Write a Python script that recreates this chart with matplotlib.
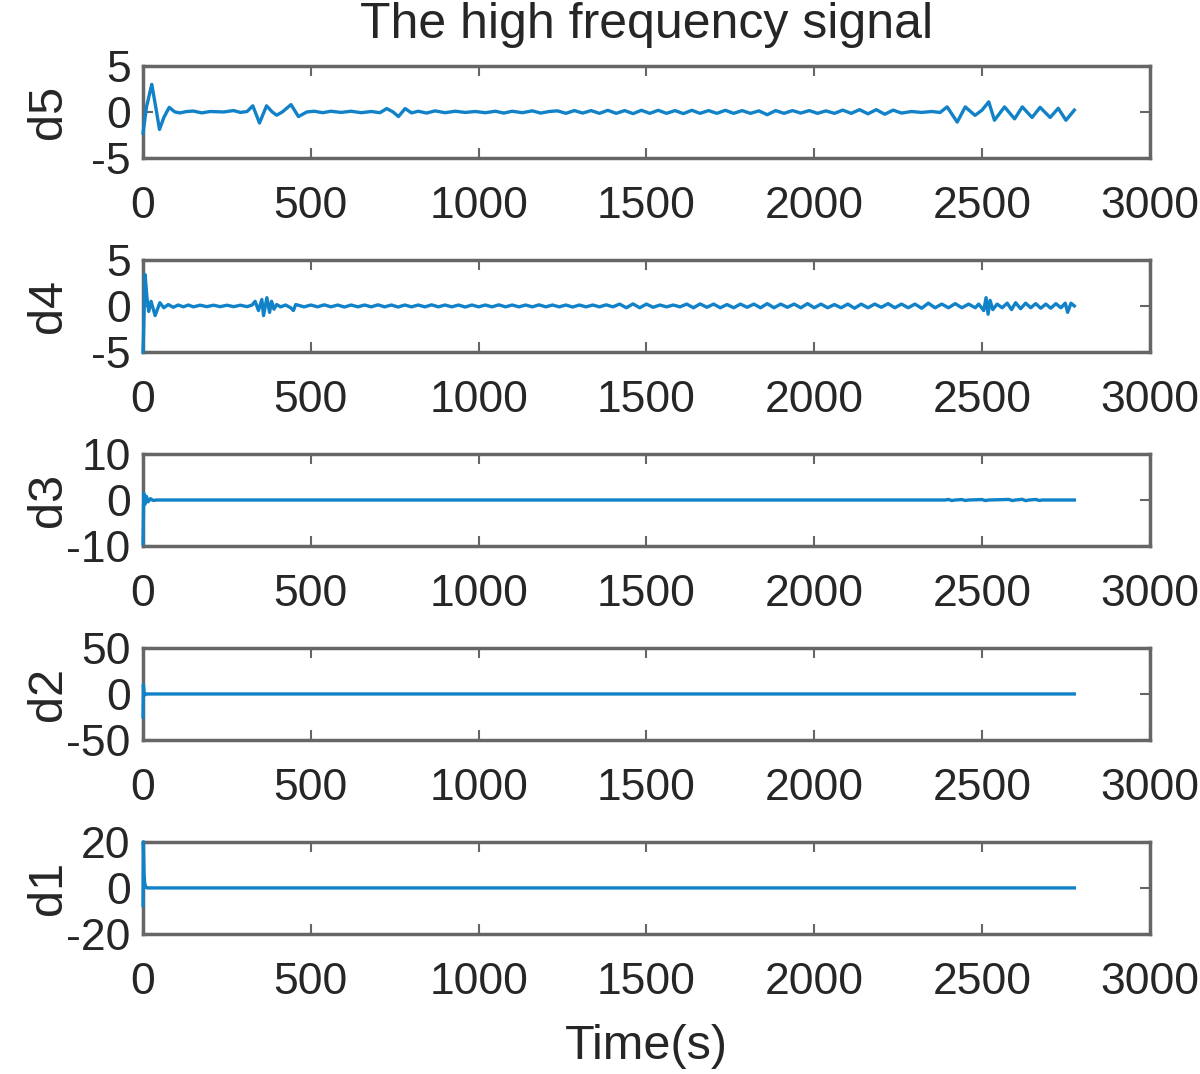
import matplotlib
matplotlib.use("Agg")
import matplotlib.pyplot as plt

# (time, value) pairs, mostly peaks and troughs
d5_pts = [(0, -2.3), (10, 0.5), (26, 3.0), (38, 0.5), (49, -1.9), (62, -0.6), (78, 0.5),
          (95, 0.0), (110, -0.1), (130, 0.05), (150, 0.1), (175, -0.1), (200, 0.05),
          (240, 0.0), (270, 0.15), (290, -0.05), (310, 0.05),
          (327, 0.67), (347, -1.2), (368, 0.67), (385, 0.0), (398, -0.35), (415, 0.0),
          (441, 0.8), (463, -0.5), (488, 0.0),
          (510, 0.08), (535, -0.08), (560, 0.08), (590, -0.05), (620, 0.08), (650, -0.08),
          (680, 0.05), (706, -0.08), (726, 0.37), (745, 0.0), (761, -0.5), (781, 0.37),
          (800, -0.1), (820, 0.08), (845, -0.12), (870, 0.12), (900, -0.08), (930, 0.08),
          (960, -0.05), (990, 0.05), (1020, -0.08), (1050, 0.08), (1075, -0.12), (1100, 0.08),
          (1130, -0.08), (1160, 0.12), (1185, -0.12), (1210, 0.05),
          (1235, 0.12), (1260, -0.15), (1285, 0.15), (1310, -0.12), (1335, 0.15), (1360, -0.15),
          (1385, 0.18), (1410, -0.15), (1435, 0.15), (1460, -0.18), (1485, 0.18), (1510, -0.15),
          (1535, 0.18), (1560, -0.15), (1585, 0.15), (1610, -0.18), (1635, 0.18), (1660, -0.15),
          (1685, 0.15), (1710, -0.15), (1735, 0.18), (1760, -0.15), (1785, 0.15), (1810, -0.15),
          (1835, 0.12), (1860, -0.3), (1885, 0.15), (1910, -0.15), (1935, 0.15), (1960, -0.12),
          (1985, 0.15), (2010, -0.15), (2035, 0.12), (2060, -0.15), (2085, 0.2), (2110, -0.15),
          (2135, 0.25), (2160, -0.2), (2185, 0.25), (2210, -0.25), (2235, 0.2), (2260, -0.12),
          (2290, 0.05), (2320, -0.05), (2350, 0.05), (2375, -0.05),
          (2396, 0.55), (2426, -1.1), (2450, 0.55), (2479, -0.37), (2500, 0.2), (2520, 1.1),
          (2537, -0.9), (2567, 0.55), (2597, -0.75), (2620, 0.55), (2649, -0.6), (2673, 0.5),
          (2703, -0.6), (2727, 0.4), (2750, -0.9), (2775, 0.2)]

d4_pts = [(0, -5.0), (6, 3.4), (12, 0.8), (17, -0.6), (24, 0.5), (36, -1.05), (50, 0.35),
          (62, -0.2), (75, 0.15), (90, -0.15), (105, 0.1), (120, -0.1), (135, 0.1),
          (150, -0.1), (170, 0.08), (190, -0.08), (210, 0.08), (230, -0.08), (250, 0.08),
          (270, -0.08), (290, 0.08), (310, -0.08), (325, 0.1), (334, 0.5), (344, -0.5),
          (354, 0.7), (359, -1.05), (369, 0.9), (377, -0.7), (383, 0.5), (390, -0.35),
          (398, 0.15), (410, -0.1), (425, 0.1), (440, -0.2), (448, -0.5), (455, 0.15),
          (480, -0.1), (500, 0.1), (520, -0.1), (540, 0.12), (560, -0.1), (580, 0.1),
          (600, -0.12), (620, 0.1), (640, -0.1), (660, 0.1), (680, -0.1), (700, 0.12),
          (720, -0.1), (740, 0.1), (760, -0.12), (780, 0.1), (800, -0.1), (820, 0.1),
          (840, -0.1), (860, 0.12), (880, -0.1), (900, 0.1), (920, -0.1), (940, 0.1),
          (960, -0.12), (980, 0.1), (1000, -0.1), (1020, 0.1), (1040, -0.1), (1060, 0.12),
          (1080, -0.1), (1100, 0.1), (1120, -0.1), (1140, 0.1), (1160, -0.1), (1180, 0.12),
          (1200, -0.1), (1220, 0.1), (1240, -0.1), (1260, 0.1), (1280, -0.12), (1300, 0.1),
          (1320, -0.1), (1340, 0.1), (1360, -0.1), (1380, 0.12), (1400, -0.1), (1420, 0.2),
          (1440, -0.2), (1460, 0.22), (1480, -0.2), (1500, 0.2), (1520, -0.15), (1540, 0.1),
          (1560, -0.1), (1580, 0.1), (1600, -0.1), (1620, 0.2), (1640, -0.2), (1660, 0.22),
          (1680, -0.15), (1700, 0.2), (1720, -0.2), (1740, 0.15), (1760, -0.2), (1780, 0.2),
          (1800, -0.15), (1820, 0.2), (1840, -0.2), (1860, 0.25), (1880, -0.2), (1900, 0.2),
          (1920, -0.15), (1940, 0.2), (1960, -0.2), (1980, 0.25), (2000, -0.2), (2020, 0.2),
          (2040, -0.2), (2060, 0.15), (2080, -0.2), (2100, 0.2), (2120, -0.25), (2140, 0.2),
          (2160, -0.2), (2180, 0.2), (2200, -0.15), (2220, 0.25), (2240, -0.2), (2260, 0.2),
          (2280, -0.2), (2300, 0.2), (2320, -0.25), (2340, 0.3), (2360, -0.2), (2380, 0.2),
          (2400, -0.2), (2420, 0.25), (2440, -0.2), (2460, 0.2), (2480, -0.2),
          (2490, 0.2), (2505, -0.5), (2512, 0.9), (2518, -0.9), (2524, 0.6), (2532, -0.4),
          (2545, 0.2), (2560, -0.2), (2575, 0.3), (2588, -0.4), (2600, 0.35), (2615, -0.3),
          (2630, 0.3), (2645, -0.2), (2660, 0.25), (2675, -0.25), (2690, 0.2), (2705, -0.25),
          (2720, 0.25), (2735, -0.2), (2748, 0.3), (2755, -0.7), (2765, 0.3), (2775, 0.0)]

d3_pts = [(0, -9.5), (2, 1.5), (6, -0.9), (10, 0.8), (15, -0.4), (22, 0.3), (30, -0.1),
          (40, 0.0), (2390, 0.0), (2400, 0.12), (2410, -0.12), (2420, 0.0), (2440, 0.1),
          (2450, -0.1), (2460, 0.0), (2500, 0.1), (2510, -0.12), (2520, 0.0), (2580, 0.12),
          (2590, -0.12), (2600, 0.0), (2620, 0.15), (2630, -0.15), (2640, 0.0), (2660, 0.12),
          (2670, -0.1), (2680, 0.0), (2775, 0.0)]

d2_pts = [(0, -25), (1, 10), (3, 2), (6, -1), (10, 0), (2775, 0)]

d1_pts = [(0, -7.6), (1, 20.0), (3, 6), (5, 2), (8, 0.5), (12, 0), (2775, 0)]

names = ["d5", "d4", "d3", "d2", "d1"]
ylims = [5, 5, 10, 50, 20]
series = [d5_pts, d4_pts, d3_pts, d2_pts, d1_pts]
xticks = [0, 500, 1000, 1500, 2000, 2500, 3000]

plt.rcParams['font.family'] = ['Liberation Sans', 'DejaVu Sans']
plt.rcParams['axes.unicode_minus'] = False
txt = '#262626'
edge = '#666666'
blue = '#1282c8'

fig = plt.figure(figsize=(12, 10.74), dpi=100)
bottoms = [0.8529, 0.6723, 0.4916, 0.3110, 0.1304]

for i in range(5):
    ax = fig.add_axes([0.1192, bottoms[i], 0.839, 0.0857])
    t = [p[0] for p in series[i]]
    v = [p[1] for p in series[i]]
    # drawn over the box like the original, so the spike at t=0 shows on the left edge
    ax.plot(t, v, color=blue, lw=2.4, zorder=3, clip_on=False)
    ax.set_xlim(0, 3000)
    ax.set_ylim(-ylims[i], ylims[i])
    ax.set_xticks(xticks)
    ax.set_yticks([-ylims[i], 0, ylims[i]])
    ax.tick_params(direction='in', top=True, right=True, length=7, width=1.5,
                   color=edge, labelcolor=txt, labelsize=32)
    ax.tick_params(axis='x', pad=20)
    ax.tick_params(axis='y', pad=9)
    for s in ax.spines.values():
        s.set_color(edge)
        s.set_linewidth(2.5)
    ax.set_ylabel(names[i], fontsize=35, color=txt)
    ax.yaxis.set_label_coords(-0.072, 0.5)
    if i == 0:
        ax.set_title("The high frequency signal", fontsize=36, color=txt, pad=20)
    if i == 4:
        ax.set_xlabel("Time(s)", fontsize=35, color=txt, labelpad=15)

fig.savefig("out.png", dpi=100)
